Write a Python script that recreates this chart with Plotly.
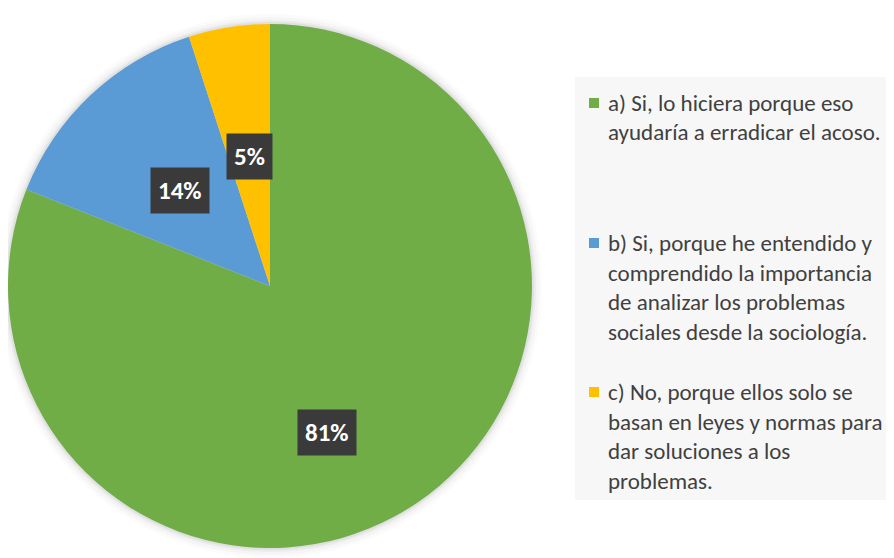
import math
import plotly.graph_objects as go

# ---- data ----
categories = [
    "a) Si, lo hiciera porque eso\nayudaría a erradicar el acoso.",
    "b) Si, porque he entendido y\ncomprendido la importancia\nde analizar los problemas\nsociales desde la sociología.",
    "c) No, porque ellos solo se\nbasan en leyes y normas para\ndar soluciones a los\nproblemas.",
]
values = [81, 14, 5]
label_texts = ["81%", "14%", "5%"]

# ---- style ----
colors = ["#70AD47", "#5B9BD5", "#FFC000"]
OFF = 8                      # page body margin in the browser
W, H = 894 - OFF, 558 - OFF  # figure size so it fits the window
CX, CY, R = 270, 286, 262    # pie centre / radius in window px (y from top)
label_radius = [0.60, 0.50, 0.50]   # fraction of radius for data labels
label_angle_shift = [13, 0, 0]      # degrees, label placement nudge
legend_first_line_y = [103, 243, 392]
legend_line_gap = 29.5
legend_text_x = 606
legend_square_x = 594
FONT = "Carlito, Calibri, Lato, sans-serif"


def px_x(x):
    return min(1.0, max(0.0, (x - OFF) / W))


def px_y(y):
    return min(1.0, max(0.0, 1 - (y - OFF) / H))


fig = go.Figure()
fig.add_trace(go.Pie(
    labels=[c.replace("\n", " ") for c in categories],
    values=values,
    sort=False,
    direction="clockwise",
    rotation=0,
    marker=dict(colors=colors, line=dict(width=0)),
    textinfo="none",
    hoverinfo="label+percent",
    showlegend=False,
    domain=dict(x=[px_x(CX - R), px_x(CX + R)],
                y=[px_y(CY + R), px_y(CY - R)]),
))

shapes = []
# legend background panel
shapes.append(dict(type="rect", xref="paper", yref="paper",
                   x0=px_x(575), x1=1.0, y0=px_y(500), y1=px_y(77),
                   fillcolor="#F7F7F7", line=dict(width=0), layer="below"))
# soft shadow around pie
for k, a in [(10, 0.015), (7, 0.025), (4, 0.035), (2, 0.05)]:
    shapes.append(dict(type="circle", xref="paper", yref="paper",
                       x0=(CX - R - k - OFF) / W, x1=(CX + R + k - OFF) / W,
                       y0=1 - (CY + R + k - OFF) / H, y1=1 - (CY - R - k - OFF) / H,
                       fillcolor=f"rgba(0,0,0,{a})", line=dict(width=0),
                       layer="below"))

annotations = []
# data labels, positioned from the slice mid-angles
total = sum(values)
cum = 0
for i, v in enumerate(values):
    mid = (cum + v / 2) / total * 360 + label_angle_shift[i]
    cum += v
    rr = label_radius[i] * R
    lx = CX + rr * math.sin(math.radians(mid))
    ly = CY - rr * math.cos(math.radians(mid))
    annotations.append(dict(
        x=px_x(lx), y=px_y(ly), xref="paper", yref="paper",
        text=f"<b>{label_texts[i]}</b>", showarrow=False,
        font=dict(family=FONT, size=25, color="white"),
        bgcolor="#3A3A3A", borderpad=7, xanchor="center", yanchor="middle",
    ))

# legend (squares + wrapped text lines)
for i, cat in enumerate(categories):
    y0 = legend_first_line_y[i]
    shapes.append(dict(type="rect", xref="paper", yref="paper",
                       x0=px_x(legend_square_x - 5), x1=px_x(legend_square_x + 5),
                       y0=px_y(y0 + 5), y1=px_y(y0 - 5),
                       fillcolor=colors[i], line=dict(width=0)))
    for j, line in enumerate(cat.split("\n")):
        annotations.append(dict(
            x=px_x(legend_text_x), y=px_y(y0 + j * legend_line_gap),
            xref="paper", yref="paper", text=line, showarrow=False,
            font=dict(family=FONT, size=23, color="#404040"),
            xanchor="left", yanchor="middle",
        ))

fig.update_layout(
    width=W, height=H,
    margin=dict(l=0, r=0, t=0, b=0),
    paper_bgcolor="white", plot_bgcolor="white",
    shapes=shapes, annotations=annotations,
)

fig.write_html("out.html")
